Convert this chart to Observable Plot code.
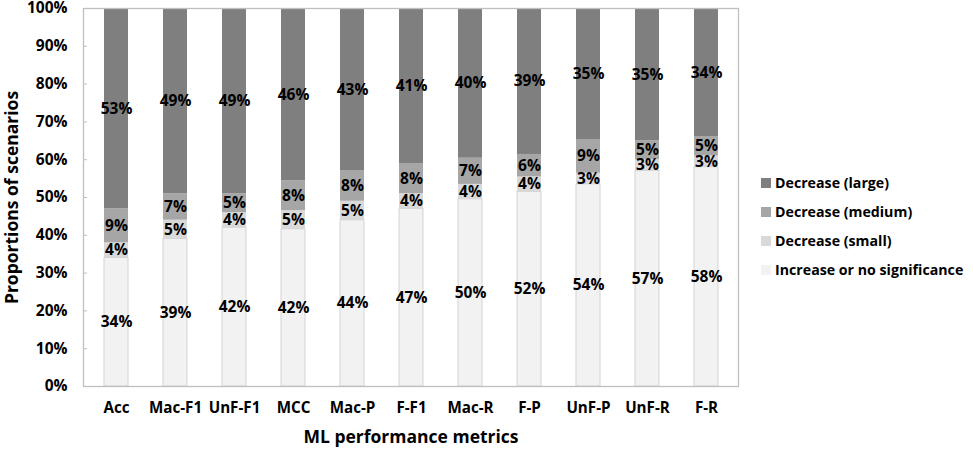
<!DOCTYPE html>
<html>
<head>
<meta charset="utf-8">
<script src="https://cdn.jsdelivr.net/npm/d3@7"></script>
<script src="https://cdn.jsdelivr.net/npm/@observablehq/plot@0.6"></script>
<style>
  html, body { margin: 0; padding: 0; background: #fff; }
  #wrap { position: relative; width: 973px; height: 450px; font-family: "Open Sans", sans-serif; }
  #legend { position: absolute; left: 761px; top: 168px; font-weight: bold; font-size: 14.2px; color: #000; }
  #legend .row { display: flex; align-items: center; height: 29px; }
  #legend .sw { width: 10px; height: 10px; margin-right: 4px; }
</style>
</head>
<body>
<div id="wrap"><div id="chart"></div><div id="legend"></div></div>
<script>
const categories = ["Acc","Mac-F1","UnF-F1","MCC","Mac-P","F-F1","Mac-R","F-P","UnF-P","UnF-R","F-R"];
const seriesNames = ["Increase or no significance","Decrease (small)","Decrease (medium)","Decrease (large)"];
const increase = [34,39,42,42,44,47,50,52,54,57,58];
const decSmall = [4,5,4,5,5,4,4,4,3,3,3];
const decMedium = [9,7,5,8,8,8,7,6,9,5,5];
const decLarge = [53,49,49,46,43,41,40,39,35,35,34];
const colors = ["#f2f2f2","#d9d9d9","#a6a6a6","#7f7f7f"];
const yTicks = [0,0.1,0.2,0.3,0.4,0.5,0.6,0.7,0.8,0.9,1];

const cols = [increase, decSmall, decMedium, decLarge];
const data = [];
categories.forEach((c, i) => {
  seriesNames.forEach((s, j) => data.push({cat: c, series: s, value: cols[j][i]}));
});

const font = "'Open Sans', sans-serif";
const chart = Plot.plot({
  width: 973,
  height: 450,
  marginLeft: 83,
  marginRight: 235,
  marginTop: 8,
  marginBottom: 64,
  style: {fontFamily: font, fontWeight: "bold", fontSize: "14px", color: "#000", background: "#fff", overflow: "visible"},
  x: {domain: categories, paddingInner: 0.6, paddingOuter: 0.3, label: null},
  y: {domain: [0, 1], ticks: yTicks, label: null},
  color: {domain: seriesNames, range: colors},
  marks: [
    Plot.barY(data, Plot.stackY({x: "cat", y: "value", z: "series", fill: "series", offset: "normalize"})),
    Plot.barY(data, Plot.stackY({x: "cat", y: "value", z: "series", offset: "normalize", fill: "none", stroke: "#d4d4d4", strokeWidth: 1, strokeOpacity: d => d.series === seriesNames[0] ? 1 : 0})),
    Plot.text(data, Plot.stackY({x: "cat", y: "value", z: "series", offset: "normalize", text: d => d.value + "%", fill: "#000", fontSize: 15.5, fontWeight: "bold"})),
    Plot.frame({stroke: "#bfbfbf", strokeWidth: 1.3}),
    Plot.axisY({ticks: yTicks, tickFormat: d => Math.round(d * 100) + "%", tickSize: -4, tickPadding: 20, stroke: "#bfbfbf", fontSize: 15.5, fontWeight: "bold",
      label: "Proportions of scenarios", labelAnchor: "center", labelArrow: "none", labelOffset: 78}),
    Plot.axisX({tickSize: 0, tickPadding: 16, fontSize: 15.2, fontWeight: "bold",
      label: "ML performance metrics", labelAnchor: "center", labelArrow: "none", labelOffset: 56})
  ]
});
document.getElementById("chart").appendChild(chart);

// axis title font size
chart.querySelectorAll("[aria-label='y-axis label'] text, [aria-label='x-axis label'] text").forEach(t => { t.setAttribute("font-size", 17.5); });

const legend = document.getElementById("legend");
[3,2,1,0].forEach(j => {
  const row = document.createElement("div");
  row.className = "row";
  const sw = document.createElement("div");
  sw.className = "sw";
  sw.style.background = colors[j];
  const lab = document.createElement("span");
  lab.textContent = seriesNames[j];
  row.appendChild(sw); row.appendChild(lab);
  legend.appendChild(row);
});
</script>
</body>
</html>
